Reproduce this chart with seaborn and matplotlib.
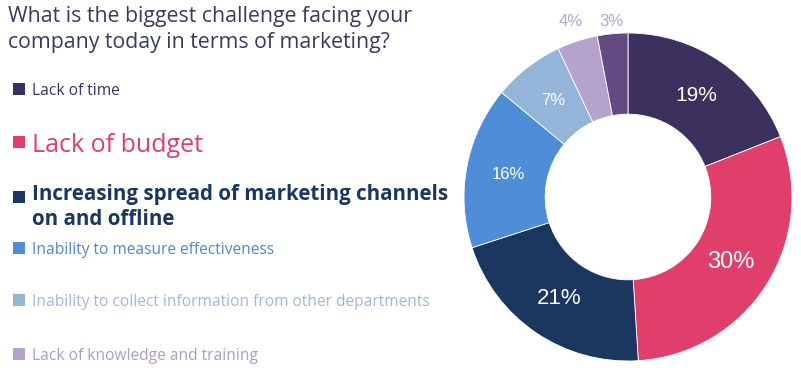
import numpy as np
import seaborn as sns
import matplotlib.pyplot as plt
from matplotlib.patches import Rectangle

# data
categories = ['Lack of time', 'Lack of budget',
              'Increasing spread of marketing channels\non and offline',
              'Inability to measure effectiveness',
              'Inability to collect information from other departments',
              'Lack of knowledge and training', 'Other']
shares = [19, 30, 21, 16, 7, 4, 3]
palette = ['#3c305f', '#e03e6b', '#1b375f', '#4f8ed6', '#94b4da', '#b6a3cc', '#634a82']
title = 'What is the biggest challenge facing your\ncompany today in terms of marketing?'

sns.set_theme(style='white')
plt.rcParams['font.family'] = ['Open Sans', 'DejaVu Sans']

fig = plt.figure(figsize=(8.01, 3.85), dpi=100)
W, H = 801, 385

# donut: centre (628,197), radius 164 px
cx, cy, r = 628, 197, 164
ax = fig.add_axes([(cx - r) / W, (H - cy - r) / H, 2 * r / W, 2 * r / H])
colors = sns.color_palette(palette)
wedges, texts, autotexts = ax.pie(
    shares, colors=colors, startangle=90, counterclock=False, radius=1,
    autopct='%d%%', pctdistance=0.745,
    wedgeprops=dict(width=0.495, edgecolor='white', linewidth=0.6),
    textprops=dict(color='white', family='Liberation Sans'))
ax.set_xlim(-1, 1)
ax.set_ylim(-1, 1)
ax.set_aspect('equal')
ax.axis('off')

pct_sizes = [15, 17, 16, 12, 12, 12, 12]
for w, t, v, fs in zip(wedges, autotexts, shares, pct_sizes):
    t.set_fontsize(fs)
    if v < 5:
        # small slices: label above the ring
        th = np.deg2rad((w.theta1 + w.theta2) / 2)
        y = 1.07
        t.set_position((y / np.sin(th) * np.cos(th), y))
        t.set_color('#b6a3cc')

# title
fig.text(8 / W, 1 - 6 / H, title, ha='left', va='top', fontsize=15.3,
         color='#383b5e', linespacing=1.3)

# legend (first six categories)
leg_y = [89, 142, 197, 248, 300, 354]
leg_size = [11.2, 18, 14.8, 11.2, 11.2, 11.2]
leg_weight = ['normal', 'normal', 'bold', 'normal', 'normal', 'normal']
leg_text_color = ['#3c305f', '#e03e6b', '#1b375f', '#4f86cf', '#9fb7d8', '#ac9cc4']
for i in range(6):
    y = leg_y[i]
    fig.add_artist(Rectangle((13 / W, 1 - (y + 6) / H), 12 / W, 12 / H,
                             transform=fig.transFigure, color=colors[i], lw=0))
    multi = '\n' in categories[i]
    fig.text(32 / W, 1 - (y - 13 if multi else y) / H, categories[i], ha='left',
             va='top' if multi else 'center_baseline',
             fontsize=leg_size[i], fontweight=leg_weight[i],
             color=leg_text_color[i], linespacing=1.25)

fig.savefig('out.png', dpi=100)
